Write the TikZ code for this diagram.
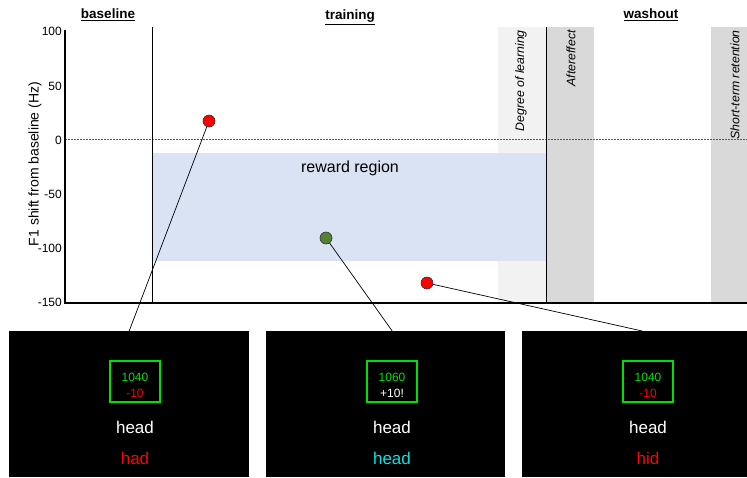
\documentclass[tikz,border=0pt]{standalone}
\usepackage{fontspec}
\setmainfont{Liberation Sans}
\definecolor{rewardblue}{HTML}{DAE3F3}
\definecolor{lightband}{HTML}{F2F2F2}
\definecolor{darkband}{HTML}{D9D9D9}
\definecolor{dotgreen}{HTML}{548235}
\definecolor{scoregreen}{RGB}{0,225,0}
\definecolor{wordcyan}{RGB}{0,230,230}
\begin{document}
\begin{tikzpicture}
		[x=1pt,y=-1pt,
		plain/.style={draw=none,fill=none,inner sep=0pt},
		tick/.style={plain,anchor=east,font=\fontsize{12}{12}\selectfont},
		phase/.style={plain,font=\fontsize{13.5}{14}\selectfont\bfseries},
		bandlabel/.style={plain,rotate=90,anchor=east,font=\fontsize{12.3}{12}\selectfont\itshape},
		dot/.style={circle,draw=black!80,line width=0.6pt,minimum size=12pt,inner sep=0pt},
		screen/.style={rectangle,fill=black,draw=none,anchor=north west,minimum height=146pt,inner sep=0pt},
		numbox/.style={rectangle,draw=scoregreen,line width=1.4pt,minimum width=50pt,minimum height=41pt,inner sep=0pt},
		score/.style={plain,font=\fontsize{12}{12}\selectfont},
		word/.style={plain,font=\fontsize{17}{17}\selectfont}
		]
		\useasboundingbox (0,0) rectangle (747,477);
		% bands and reward region
		\fill[lightband] (498,27) rectangle (546.5,303);
		\fill[darkband] (546.5,27) rectangle (594,303);
		\fill[darkband] (711,27) rectangle (747,303);
		\fill[rewardblue] (152,153) rectangle (546.5,261);
		\node[plain,font=\fontsize{16}{16}\selectfont] (rr) at (350,168) {reward region};

\draw[gray!70!black,line width=0.8pt,dash pattern=on 1.5pt off 1.5pt] (65,139.5) -- (747,139.5);
\draw[line width=0.8pt] (152,27) -- (152,303);
\draw[line width=0.8pt] (546.5,27) -- (546.5,303);
\draw[line width=2.4pt] (65,30) -- (65,303) -- (747,303);

		\node[tick] (t100) at (62,31) {100};
		\node[tick] (t50) at (62,86) {50};
		\node[tick] (t0) at (62,140) {0};
		\node[tick] (tm50) at (62,194) {-50};
		\node[tick] (tm100) at (62,248) {-100};
		\node[tick] (tm150) at (62,302) {-150};
		\node[plain,rotate=90,font=\fontsize{14}{14}\selectfont] (ylab) at (35,164) {F1 shift from baseline (Hz)};

		\node[phase] (ph1) at (108,15) {\underline{baseline}};
		\node[phase] (ph2) at (350,17) {\underline{training}};
		\node[phase] (ph3) at (651,15) {\underline{washout}};

		\node[bandlabel] (bl1) at (521,30) {Degree of learning};
		\node[bandlabel] (bl2) at (571,30) {Aftereffect};
		\node[bandlabel] (bl3) at (735,30) {Short-term retention};

		% screens
		\node[screen,minimum width=240pt] (s1) at (9,331) {};
		\node[screen,minimum width=239pt] (s2) at (266,331) {};
		\node[screen,minimum width=225pt] (s3) at (522,331) {};

		\node[numbox] (b1) at (135,381.5) {};
		\node[numbox] (b2) at (392,381.5) {};
		\node[numbox] (b3) at (648,381.5) {};

\node[score,text=scoregreen] at (135,377) {1040};
\node[score,text=red] at (135,393.5) {-10};
\node[score,text=scoregreen] at (392,377) {1060};
\node[score,text=white] at (392,393.5) {+10!};
\node[score,text=scoregreen] at (648,377) {1040};
\node[score,text=red] at (648,393.5) {-10};

\node[word,text=white] (h1) at (135,427) {head};
\node[word,text=red] (w1) at (135,458) {had};
\node[word,text=white] (h2) at (392,427) {head};
\node[word,text=wordcyan] (w2) at (392,458) {head};
\node[word,text=white] (h3) at (648,427) {head};
\node[word,text=red] (w3) at (648,458) {hid};

		% trials
		\node[dot,fill=red] (p1) at (209,121) {};
		\node[dot,fill=dotgreen] (p2) at (326,238) {};
		\node[dot,fill=red] (p3) at (427,283) {};
		\draw[line width=0.7pt] (p1) -- (s1.north);
		\draw[line width=0.7pt] (p2) -- ([xshift=6.5pt]s2.north);
		\draw[line width=0.7pt] (p3) -- ([xshift=7.5pt]s3.north);
	\end{tikzpicture}
\end{document}
